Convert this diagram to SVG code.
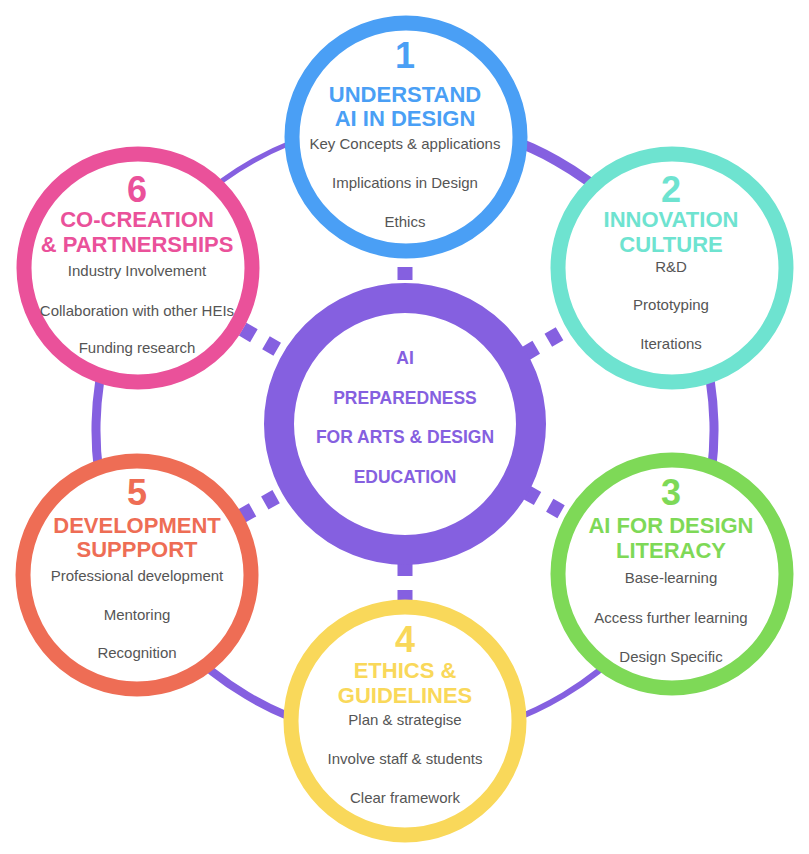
<svg xmlns="http://www.w3.org/2000/svg" width="809" height="854" viewBox="0 0 809 854">
<style>
.bg{fill:#ffffff}
.ring{fill:none;stroke:#8560e0}
.conn{stroke:#8560e0;stroke-width:15;stroke-dasharray:13 14;fill:none}
.node{fill:#ffffff;stroke-width:15}
.num{font-family:"Liberation Sans",Arial,sans-serif;font-weight:bold;font-size:36px;text-anchor:middle}
.ttl{font-family:"Liberation Sans",Arial,sans-serif;font-weight:bold;font-size:22px;text-anchor:middle}
.sub{font-family:"Liberation Sans",Arial,sans-serif;font-size:15px;text-anchor:middle;fill:#555555}
.ctr{font-family:"Liberation Sans",Arial,sans-serif;font-weight:bold;font-size:17.5px;text-anchor:middle;fill:#8560e0}
</style>
<rect class="bg" x="0" y="0" width="809" height="854"/>
<g id="outer-ring">
<path class="ring" stroke-width="10" d="M405 121 A309 309 0 0 1 669.3 269.9"/>
<path class="ring" stroke-width="9" d="M669.3 269.9 A309 309 0 0 1 677.1 576.5"/>
<path class="ring" stroke-width="6" d="M677.1 576.5 A309 309 0 0 1 405 739"/>
<path class="ring" stroke-width="8" d="M405 739 A309 309 0 0 1 133.2 577"/>
<path class="ring" stroke-width="9" d="M133.2 577 A309 309 0 0 1 140.7 269.9"/>
<path class="ring" stroke-width="5" d="M140.7 269.9 A309 309 0 0 1 405 121"/>
</g>
<g id="connectors">
<line class="conn" x1="405" y1="280" x2="405" y2="137"/>
<line class="conn" x1="525" y1="353.9" x2="672" y2="268"/>
<line class="conn" x1="526.2" y1="492.1" x2="672" y2="574"/>
<line class="conn" x1="405" y1="563" x2="405" y2="721"/>
<line class="conn" x1="276.1" y1="496.6" x2="137" y2="575"/>
<line class="conn" x1="277.2" y1="349.3" x2="138" y2="268"/>
</g>
<g id="center">
<circle cx="405" cy="424" r="126" fill="#ffffff" stroke="#8560e0" stroke-width="30"/>
<text class="ctr" x="405" y="364">AI</text>
<text class="ctr" x="405" y="404">PREPAREDNESS</text>
<text class="ctr" x="405" y="443">FOR ARTS &amp; DESIGN</text>
<text class="ctr" x="405" y="483">EDUCATION</text>
</g>
<g id="node1">
<circle class="node" cx="406" cy="137" r="114" stroke="#4a9ff5"/>
<text class="num" x="405" y="68" fill="#4a9ff5">1</text>
<text class="ttl" x="405" y="102" fill="#4a9ff5">UNDERSTAND</text>
<text class="ttl" x="405" y="126" fill="#4a9ff5">AI IN DESIGN</text>
<text class="sub" x="405" y="149">Key Concepts &amp; applications</text>
<text class="sub" x="405" y="188">Implications in Design</text>
<text class="sub" x="405" y="227">Ethics</text>
</g>
<g id="node2">
<circle class="node" cx="672" cy="268" r="114" stroke="#6ee3d0"/>
<text class="num" x="671" y="202" fill="#6ee3d0">2</text>
<text class="ttl" x="671" y="227" fill="#6ee3d0">INNOVATION</text>
<text class="ttl" x="671" y="252" fill="#6ee3d0">CULTURE</text>
<text class="sub" x="671" y="272">R&amp;D</text>
<text class="sub" x="671" y="310">Prototyping</text>
<text class="sub" x="671" y="349">Iterations</text>
</g>
<g id="node3">
<circle class="node" cx="672" cy="574" r="114" stroke="#7ed957"/>
<text class="num" x="671" y="505" fill="#7ed957">3</text>
<text class="ttl" x="671" y="533" fill="#7ed957">AI FOR DESIGN</text>
<text class="ttl" x="671" y="558" fill="#7ed957">LITERACY</text>
<text class="sub" x="671" y="583">Base-learning</text>
<text class="sub" x="671" y="623">Access further learning</text>
<text class="sub" x="671" y="662">Design Specific</text>
</g>
<g id="node4">
<circle class="node" cx="405" cy="721" r="114" stroke="#f9d85a"/>
<text class="num" x="405" y="652" fill="#f9d85a">4</text>
<text class="ttl" x="405" y="678" fill="#f9d85a">ETHICS &amp;</text>
<text class="ttl" x="405" y="703" fill="#f9d85a">GUIDELINES</text>
<text class="sub" x="405" y="725">Plan &amp; strategise</text>
<text class="sub" x="405" y="764">Involve staff &amp; students</text>
<text class="sub" x="405" y="803">Clear framework</text>
</g>
<g id="node5">
<circle class="node" cx="137" cy="575" r="114" stroke="#ee6d55"/>
<text class="num" x="137" y="505" fill="#ee6d55">5</text>
<text class="ttl" x="137" y="533" fill="#ee6d55">DEVELOPMENT</text>
<text class="ttl" x="137" y="557" fill="#ee6d55">SUPPPORT</text>
<text class="sub" x="137" y="581">Professional development</text>
<text class="sub" x="137" y="620">Mentoring</text>
<text class="sub" x="137" y="658">Recognition</text>
</g>
<g id="node6">
<circle class="node" cx="138" cy="268" r="114" stroke="#ea519a"/>
<text class="num" x="137" y="202" fill="#ea519a">6</text>
<text class="ttl" x="137" y="227" fill="#ea519a">CO-CREATION</text>
<text class="ttl" x="137" y="252" fill="#ea519a">&amp; PARTNERSHIPS</text>
<text class="sub" x="137" y="276">Industry Involvement</text>
<text class="sub" x="137" y="316">Collaboration with other HEIs</text>
<text class="sub" x="137" y="353">Funding research</text>
</g>
</svg>
